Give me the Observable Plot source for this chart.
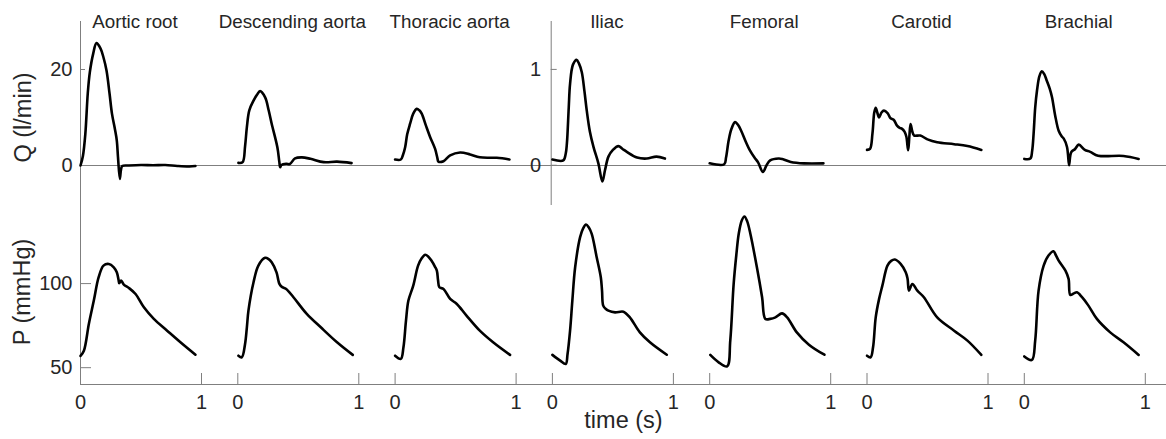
<!DOCTYPE html>
<html>
<head>
<meta charset="utf-8">
<script src="https://cdn.jsdelivr.net/npm/d3@7"></script>
<script src="https://cdn.jsdelivr.net/npm/@observablehq/plot@0.6"></script>
<style>
  body { margin: 0; background: #fff; }
  #chart { position: relative; width: 1166px; height: 439px; }
  #chart svg { position: absolute; left: 0; top: 0; }
</style>
</head>
<body>
<div id="chart"></div>
<script>
// ---------- data ----------
const sites = ["Aortic root", "Descending aorta", "Thoracic aorta", "Iliac", "Femoral", "Carotid", "Brachial"];

// flow Q (l/min) : [time (s), Q]
const qAorticRoot = [[0,0],[0.02,2],[0.04,6.6],[0.06,15],[0.077,19.4],[0.105,23.3],[0.132,25.5],[0.165,24.4],[0.19,22.5],[0.215,19.8],[0.24,15],[0.26,10.8],[0.285,7.5],[0.30,5.2],[0.31,1.7],[0.325,-2.8],[0.335,-0.8],[0.345,-0.1],[0.4,0],[0.5,0.1],[0.6,0.05],[0.7,0.1],[0.8,-0.1],[0.9,-0.2],[0.95,-0.1]];
const qDescAorta = [[0.005,0.55],[0.04,0.7],[0.06,4],[0.075,8],[0.095,11.5],[0.13,13.5],[0.16,14.8],[0.184,15.5],[0.226,14.2],[0.255,11.5],[0.28,8.7],[0.327,3.8],[0.343,0.8],[0.35,-0.35],[0.36,0.1],[0.40,0.35],[0.43,0.3],[0.473,1.5],[0.53,1.7],[0.6,1.4],[0.71,0.7],[0.82,0.8],[0.94,0.5]];
const qThoracic = [[0,1.25],[0.047,1.25],[0.065,2.2],[0.083,3.8],[0.1,6.5],[0.124,8.7],[0.15,10.8],[0.179,11.8],[0.2,11.5],[0.22,10.8],[0.255,8.3],[0.29,5.9],[0.33,3.5],[0.35,1.5],[0.358,0.8],[0.40,0.9],[0.455,2.1],[0.537,2.7],[0.62,2.3],[0.70,1.7],[0.84,1.6],[0.945,1.25]];
const qIliac = [[0,0.06],[0.09,0.05],[0.11,0.12],[0.12,0.23],[0.135,0.6],[0.146,0.85],[0.17,1.05],[0.20,1.10],[0.22,1.06],[0.243,0.97],[0.265,0.77],[0.284,0.57],[0.31,0.35],[0.34,0.19],[0.38,0.02],[0.413,-0.17],[0.435,-0.05],[0.463,0.09],[0.5,0.16],[0.545,0.20],[0.58,0.17],[0.615,0.14],[0.70,0.08],[0.78,0.07],[0.86,0.09],[0.93,0.07]];
const qFemoral = [[0,0.02],[0.12,0.01],[0.135,0.08],[0.157,0.26],[0.18,0.38],[0.21,0.45],[0.235,0.42],[0.26,0.36],[0.30,0.24],[0.33,0.16],[0.37,0.08],[0.40,0.03],[0.44,-0.07],[0.47,0.0],[0.50,0.05],[0.57,0.07],[0.6,0.065],[0.67,0.035],[0.78,0.02],[0.94,0.02]];
const qCarotid = [[0,0.16],[0.025,0.17],[0.045,0.33],[0.06,0.55],[0.072,0.60],[0.085,0.55],[0.10,0.50],[0.12,0.55],[0.14,0.57],[0.17,0.545],[0.195,0.49],[0.22,0.475],[0.25,0.41],[0.27,0.39],[0.29,0.38],[0.31,0.35],[0.325,0.3],[0.34,0.156],[0.35,0.3],[0.36,0.43],[0.375,0.35],[0.39,0.31],[0.44,0.31],[0.50,0.27],[0.58,0.24],[0.72,0.22],[0.83,0.20],[0.945,0.16]];
const qBrachial = [[0,0.066],[0.05,0.07],[0.065,0.15],[0.077,0.33],[0.09,0.6],[0.105,0.78],[0.125,0.93],[0.145,0.98],[0.165,0.95],[0.185,0.885],[0.21,0.8],[0.229,0.71],[0.255,0.52],[0.284,0.36],[0.31,0.3],[0.325,0.28],[0.353,0.19],[0.37,0.0],[0.38,0.1],[0.39,0.14],[0.42,0.17],[0.45,0.215],[0.50,0.16],[0.545,0.14],[0.61,0.10],[0.82,0.097],[0.945,0.066]];

// pressure P (mmHg) : [time (s), P]
const pAorticRoot = [[0,57],[0.028,60.1],[0.069,76],[0.11,89.9],[0.15,103.8],[0.19,110.7],[0.234,111.7],[0.275,109.7],[0.30,106.7],[0.315,102],[0.32,100.2],[0.336,101.8],[0.358,99.4],[0.40,97.4],[0.455,93.8],[0.524,85.9],[0.606,79],[0.716,72],[0.826,65.1],[0.95,57.7]];
const pDescAorta = [[0.005,57.1],[0.033,56.2],[0.06,64.1],[0.075,74],[0.088,83.9],[0.13,100.8],[0.17,110.7],[0.226,115.3],[0.255,114.5],[0.28,112.7],[0.32,106.7],[0.335,102],[0.344,99.8],[0.36,98.2],[0.40,96.8],[0.46,91.9],[0.57,82],[0.686,74],[0.82,65.1],[0.95,57.6]];
const pThoracic = [[0,57.1],[0.047,55.2],[0.069,62.1],[0.09,78],[0.11,89.9],[0.15,98.8],[0.19,110.7],[0.22,115],[0.248,117.1],[0.275,116],[0.30,113.7],[0.33,110],[0.345,107.7],[0.355,102],[0.366,97.8],[0.40,96.8],[0.455,90.9],[0.51,87.9],[0.59,81],[0.70,72],[0.81,65.1],[0.95,57.6]];
const pIliac = [[0,57.6],[0.064,54.2],[0.11,52.2],[0.125,58],[0.146,72],[0.165,90],[0.188,109.7],[0.229,127.6],[0.255,133],[0.278,135.1],[0.30,133.5],[0.325,129.6],[0.366,115.7],[0.40,103.8],[0.41,96],[0.42,86.9],[0.44,85],[0.463,83.9],[0.518,82.9],[0.587,83.3],[0.64,79.9],[0.723,71],[0.806,65.1],[0.945,57.7]];
const pFemoral = [[0.005,57.6],[0.074,53.2],[0.144,50.8],[0.17,66.1],[0.198,99.8],[0.22,117],[0.24,129.6],[0.265,137.5],[0.287,139.9],[0.31,137],[0.336,129.6],[0.39,109.7],[0.433,91.9],[0.46,79],[0.50,79],[0.543,79.9],[0.598,82.3],[0.64,79.9],[0.72,71],[0.82,63.7],[0.948,57.7]];
const pCarotid = [[0,57.1],[0.03,56.2],[0.05,62.1],[0.072,79.9],[0.10,90.9],[0.127,98.8],[0.169,110.7],[0.20,113.5],[0.23,114.3],[0.278,111.7],[0.32,106.7],[0.335,103],[0.347,95.8],[0.375,99.8],[0.416,95.8],[0.47,91.9],[0.58,79.9],[0.72,72],[0.83,66.1],[0.945,57.6]];
const pBrachial = [[0,56.7],[0.063,54.6],[0.09,66.1],[0.118,95.8],[0.16,110.7],[0.20,116.7],[0.242,119.2],[0.26,117],[0.284,113.7],[0.34,107.7],[0.366,102.8],[0.38,93.3],[0.41,94.2],[0.435,94.8],[0.477,91.9],[0.53,86.9],[0.60,79],[0.71,71],[0.82,65.1],[0.945,57.6]];

// tick values
const qTicksAorta = [0, 20];
const qTicksPeripheral = [0, 1];
const pTicks = [50, 100];
const timeTicks = [0, 1];
const timeTickLabels = ["0", "1"];

// ---------- layout ----------
const W = 1166, H = 439;
const panelStep = 1.3;            // horizontal offset between panels (in time units)
const xMax = (W - 80) / 121;      // plot x domain end
const font = "'Liberation Sans', Arial, Helvetica, sans-serif";
const textColor = "#262626";
const axisColor = "#7f7f7f";
const baseStyle = {fontFamily: font, color: textColor, background: "transparent", overflow: "visible"};
const intFormat = d3.format("d");

const flowSeries = [qAorticRoot, qDescAorta, qThoracic, qIliac, qFemoral, qCarotid, qBrachial];
const pressureSeries = [pAorticRoot, pDescAorta, pThoracic, pIliac, pFemoral, pCarotid, pBrachial];
const toRows = (series) => series.flatMap((s, i) => s.map(([t, v]) => ({site: sites[i], panel: i, t, v})));
const flowRows = toRows(flowSeries);
const pressureRows = toRows(pressureSeries);
const xPos = d => d.panel * panelStep + d.t;

const lineStyle = {x: xPos, y: "v", z: "site", stroke: "#000", strokeWidth: 2.6, curve: "catmull-rom", strokeLinejoin: "round", strokeLinecap: "round"};
const titleRows = sites.map((s, i) => ({site: s, panel: i}));

const chart = document.getElementById("chart");

// --- top row, aortic flows ---
const qDomainA = [-10, 30];
const plotA = Plot.plot({
  width: W, height: H,
  marginLeft: 80, marginRight: 0, marginTop: 21, marginBottom: 226,
  x: {domain: [0, xMax], axis: null},
  y: {domain: qDomainA},
  style: baseStyle,
  marks: [
    Plot.ruleY([0], {stroke: axisColor, strokeWidth: 1}),
    Plot.ruleX([0], {stroke: axisColor, strokeWidth: 1}),
    Plot.axisY(qTicksAorta, {label: null, tickSize: -5, tickPadding: 13, stroke: axisColor, fill: textColor, fontSize: 20, tickFormat: intFormat}),
    Plot.text(["Q (l/min)"], {frameAnchor: "left", rotate: -90, dx: -57, textAnchor: "middle", lineAnchor: "middle", fontSize: 23.5, fill: textColor}),
    Plot.line(flowRows.filter(d => d.panel < 3), lineStyle),
    Plot.text(titleRows, {x: d => d.panel * panelStep + 0.45, text: "site", frameAnchor: "top", lineAnchor: "middle", fontSize: 18.8, fill: textColor})
  ]
});

// --- top row, peripheral flows (own scale) ---
const xStartB = 3 * panelStep - 0.01;
const plotB = Plot.plot({
  width: W, height: H,
  marginLeft: 80 + xStartB * 121, marginRight: 0, marginTop: 21, marginBottom: 234,
  x: {domain: [xStartB, xMax], axis: null},
  y: {domain: [-0.42, 1.5]},
  style: baseStyle,
  marks: [
    Plot.ruleX([xStartB], {stroke: axisColor, strokeWidth: 1}),
    Plot.axisY(qTicksPeripheral, {label: null, tickSize: -6, tickPadding: 16, stroke: axisColor, fill: textColor, fontSize: 20, tickFormat: intFormat}),
    Plot.line(flowRows.filter(d => d.panel >= 3), lineStyle)
  ]
});

// --- bottom row, pressures ---
const pDomain = [40, 150];
const xTickPositions = sites.flatMap((_, i) => timeTicks.map(t => i * panelStep + t));
const xTickLabel = new Map(sites.flatMap((_, i) => timeTicks.map((t, j) => [i * panelStep + t, timeTickLabels[j]])));
const plotC = Plot.plot({
  width: W, height: H,
  marginLeft: 80, marginRight: 0, marginTop: 199, marginBottom: 55,
  x: {domain: [0, xMax]},
  y: {domain: pDomain},
  style: baseStyle,
  marks: [
    Plot.ruleY([pDomain[0]], {stroke: axisColor, strokeWidth: 1}),
    Plot.ruleX([0], {stroke: axisColor, strokeWidth: 1}),
    Plot.axisY(pTicks, {label: null, tickSize: -11, tickPadding: 19, stroke: axisColor, fill: textColor, fontSize: 20, tickFormat: intFormat}),
    Plot.axisX(xTickPositions, {label: null, tickSize: -11, tickPadding: 21, stroke: axisColor, fill: textColor, fontSize: 20, tickFormat: v => xTickLabel.get(v)}),
    Plot.text(["P (mmHg)"], {frameAnchor: "left", rotate: -90, dx: -58, textAnchor: "middle", lineAnchor: "middle", fontSize: 23.5, fill: textColor}),
    Plot.text(["time (s)"], {frameAnchor: "bottom", dy: 36, textAnchor: "middle", lineAnchor: "middle", fontSize: 23.5, fill: textColor}),
    Plot.line(pressureRows, lineStyle)
  ]
});

chart.append(plotC, plotA, plotB);
</script>
</body>
</html>
